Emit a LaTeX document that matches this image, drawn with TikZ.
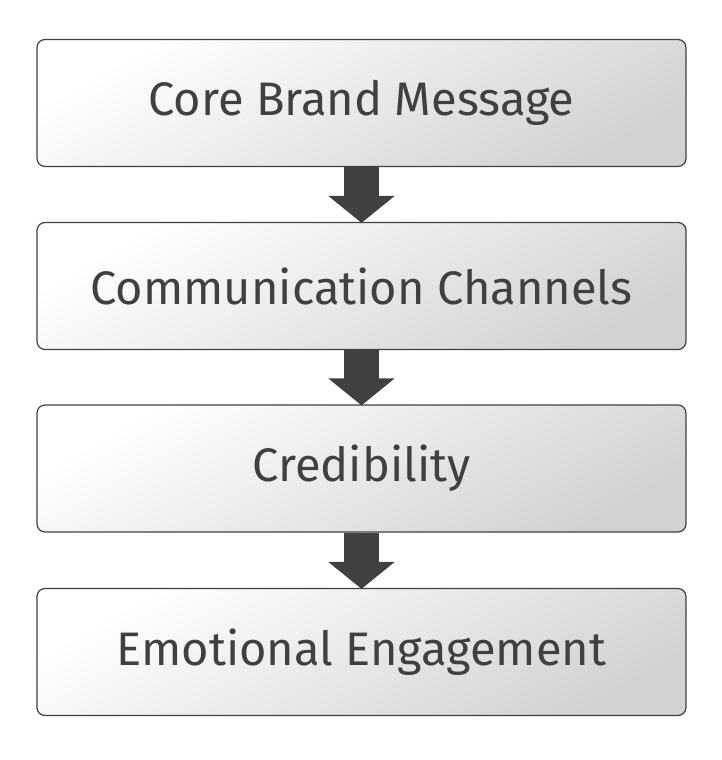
\documentclass[tikz,border=0pt]{standalone}
\usepackage{fontspec}
\setmainfont{Fira Sans}
\usetikzlibrary{arrows.meta}
\definecolor{ink}{HTML}{404040}
\tikzset{
  stage/.style={draw=ink,line width=1.2pt,rounded corners=8pt,minimum width=649pt,minimum height=127pt,
    top color=white,bottom color=gray!35,shading angle=30,text=ink,font=\fontsize{47}{56}\selectfont},
  flow/.style={ink,line width=35pt,-{Triangle[length=27pt,width=65pt]},shorten >=-1pt}
}
\begin{document}
\begin{tikzpicture}[x=1pt,y=1pt]
  \useasboundingbox (0,0) rectangle (721,-760);
  \node[stage] (s1) at (361.5,-103) {Core Brand Message};
  \node[stage] (s2) at (361.5,-286) {Communication Channels};
  \node[stage] (s3) at (361.5,-468.5) {Credibility};
  \node[stage] (s4) at (361.5,-652) {Emotional Engagement};

  \draw[flow] (s1.south) -- (s2.north);
  \draw[flow] (s2.south) -- (s3.north);
  \draw[flow] (s3.south) -- (s4.north);
\end{tikzpicture}
\end{document}
